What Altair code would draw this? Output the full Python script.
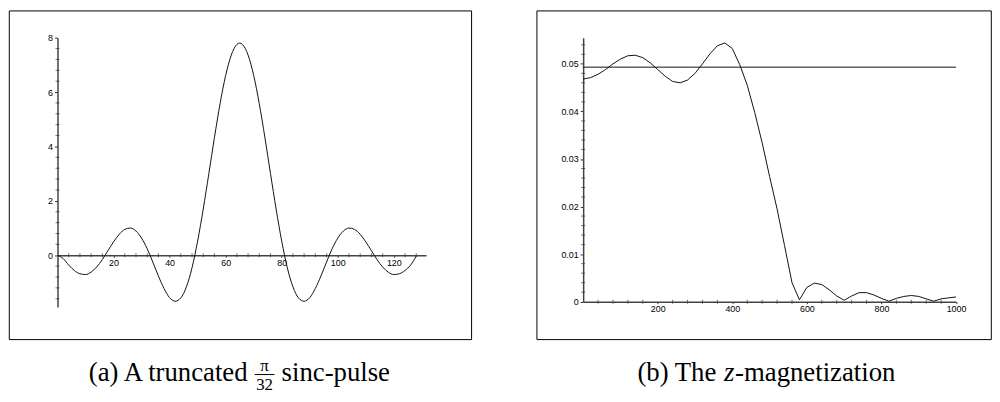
import altair as alt
import pandas as pd

# ---------------- data ----------------
# (a) truncated sinc pulse
sinc_x = [0, 2, 4, 6, 8, 10, 12, 14, 16, 18, 20, 22, 24, 26, 28, 30, 32, 34, 36, 38,
          40, 42, 44, 46, 48, 50, 52, 54, 56, 58, 60, 62, 64, 65, 66, 68, 70, 72, 74, 76,
          78, 80, 82, 84, 86, 88, 90, 92, 94, 96, 98, 100, 102, 104, 106, 108, 110, 112,
          114, 116, 118, 120, 122, 124, 126, 128]
sinc_y = [0.00, -0.12, -0.36, -0.56, -0.68, -0.71, -0.62, -0.43, -0.16, 0.17, 0.49, 0.77,
          0.95, 1.00, 0.89, 0.63, 0.24, -0.25, -0.76, -1.22, -1.56, -1.69, -1.57, -1.16,
          -0.46, 0.52, 1.70, 3.00, 4.33, 5.57, 6.61, 7.36, 7.75, 7.80, 7.75, 7.36, 6.61,
          5.57, 4.33, 3.00, 1.70, 0.52, -0.46, -1.16, -1.57, -1.69, -1.56, -1.22, -0.76,
          -0.25, 0.24, 0.63, 0.89, 1.00, 0.95, 0.77, 0.49, 0.17, -0.16, -0.43, -0.62,
          -0.71, -0.68, -0.56, -0.36, -0.03]

# (b) z-magnetization
mag_x = [0, 20, 40, 60, 80, 100, 120, 140, 160, 180, 200, 220, 240, 260, 280, 300, 320,
         340, 360, 380, 400, 420, 440, 460, 480, 500, 520, 540, 560, 580, 600, 620, 640,
         660, 680, 700, 720, 740, 760, 780, 800, 820, 840, 860, 880, 900, 920, 940, 960,
         980, 1000]
mag_y = [0.0468, 0.0471, 0.0478, 0.0488, 0.0500, 0.0510, 0.0517, 0.0518, 0.0513, 0.0502,
         0.0488, 0.0474, 0.0463, 0.0460, 0.0466, 0.0480, 0.0500, 0.0521, 0.0538, 0.0544,
         0.0532, 0.0498, 0.0455, 0.0398, 0.0334, 0.0263, 0.0195, 0.0118, 0.0040, 0.0004,
         0.0030, 0.0039, 0.0036, 0.0025, 0.0012, 0.0003, 0.0012, 0.0019, 0.0019, 0.0014,
         0.0007, 0.0001, 0.0007, 0.0011, 0.0013, 0.0011, 0.0006, 0.0001, 0.0006, 0.0008,
         0.0010]
mag_level = [0.0493]

# major ticks (labelled) and minor ticks
a_x_labels = [20, 40, 60, 80, 100, 120]
a_y_labels = [0, 2, 4, 6, 8]
a_x_minor = [4, 8, 12, 16, 24, 28, 32, 36, 44, 48, 52, 56, 64, 68, 72, 76, 84, 88, 92, 96,
             104, 108, 112, 116, 124, 128]
a_y_minor = [-1.6, -1.2, -0.8, -0.4, 0.4, 0.8, 1.2, 1.6, 2.4, 2.8, 3.2, 3.6, 4.4, 4.8, 5.2,
             5.6, 6.4, 6.8, 7.2, 7.6]
b_x_labels = [200, 400, 600, 800, 1000]
b_y_labels = [0, 0.01, 0.02, 0.03, 0.04, 0.05]
b_x_minor = [40, 80, 120, 160, 240, 280, 320, 360, 440, 480, 520, 560, 640, 680, 720, 760,
             840, 880, 920, 960]
b_y_minor = [0.002, 0.004, 0.006, 0.008, 0.012, 0.014, 0.016, 0.018, 0.022, 0.024, 0.026,
             0.028, 0.032, 0.034, 0.036, 0.038, 0.042, 0.044, 0.046, 0.048, 0.052, 0.054]

caption_a_left = "(a) A truncated"
caption_a_num = "π"
caption_a_den = "32"
caption_a_right = "sinc-pulse"
caption_b_left = "(b) The"
caption_b_var = "z"
caption_b_right = "-magnetization"

# ---------------- layout constants ----------------
A_XDOM, A_YDOM = [0, 131.5], [-1.9, 8]
A_W, A_H = 372.3, 272
B_XDOM, B_YDOM = [0, 1000], [0, 0.0555]
B_W, B_H = 376.7, 266.7

LABEL_FONT = "Liberation Sans"
SERIF = "Liberation Serif"
CAP = 27
FRAC = 17
BASE = 347
AXIS_STYLE = dict(domainColor="#444", domainWidth=1.5, tickColor="#333", tickWidth=1,
                  labelFont=LABEL_FONT, labelFontSize=9, labelColor="black",
                  labelOverlap=False, labelFlush=False, grid=False)
X_AXIS = dict(tickSize=2, labelPadding=1, **AXIS_STYLE)
Y_AXIS = dict(tickSize=3, labelPadding=2, **AXIS_STYLE)

one = pd.DataFrame({"k": [0]})


def frame(x1, x2, y1, y2):
    return alt.Chart(one).mark_rect(fillOpacity=0, stroke="black", strokeWidth=1).encode(
        x=alt.value(x1), x2=alt.value(x2), y=alt.value(y1), y2=alt.value(y2))


def txt(s, x, y, align="left", size=CAP, style="normal"):
    return alt.Chart(one).mark_text(text=s, font=SERIF, fontSize=size, align=align,
                                    baseline="alphabetic", fontStyle=style,
                                    color="black").encode(x=alt.value(x), y=alt.value(y))


def minor_x(vals, sx, sy, ax, ay):
    return alt.Chart(pd.DataFrame({"x": vals})).mark_tick(
        orient="vertical", size=4, thickness=1, color="#333").encode(
        x=alt.X("x:Q", scale=sx, axis=ax, title=None),
        y=alt.YDatum(0, scale=sy, axis=ay, title=None))


def minor_y(vals, sx, sy, ax, ay):
    return alt.Chart(pd.DataFrame({"y": vals})).mark_tick(
        orient="horizontal", size=4, thickness=1, color="#333").encode(
        y=alt.Y("y:Q", scale=sy, axis=ay, title=None),
        x=alt.XDatum(0, scale=sx, axis=ax, title=None))


# ---------------- panel (a) ----------------
df_a = pd.DataFrame({"x": sinc_x, "y": sinc_y})
a_off = -(A_H * (0 - A_YDOM[0]) / (A_YDOM[1] - A_YDOM[0]))
sc_ax = alt.Scale(domain=A_XDOM, nice=False, zero=False)
sc_ay = alt.Scale(domain=A_YDOM, nice=False, zero=False)
ax_ax = alt.Axis(values=a_x_labels, offset=a_off, format="d", **X_AXIS)
ax_ay = alt.Axis(values=a_y_labels, format="d", **Y_AXIS)
line_a = alt.Chart(df_a).mark_line(color="#111", strokeWidth=1, interpolate="monotone").encode(
    x=alt.X("x:Q", scale=sc_ax, axis=ax_ax, title=None),
    y=alt.Y("y:Q", scale=sc_ay, axis=ax_ay, title=None),
)
fx = 209.2
panel_a = alt.layer(
    frame(-48.7, 418.3, -27, 305),
    line_a,
    minor_x(a_x_minor, sc_ax, sc_ay, ax_ax, ax_ay),
    minor_y(a_y_minor, sc_ax, sc_ay, ax_ax, ax_ay),
    txt(caption_a_left, 192, BASE, align="right"),
    txt(caption_a_num, fx, BASE - 10, align="center", size=FRAC),
    alt.Chart(one).mark_rule(color="black", strokeWidth=1).encode(
        x=alt.value(fx - 10), x2=alt.value(fx + 10), y=alt.value(BASE - 6.7)),
    txt(caption_a_den, fx, BASE + 9, align="center", size=FRAC),
    txt(caption_a_right, 226.4, BASE),
).properties(width=A_W, height=A_H)

# ---------------- panel (b) ----------------
df_b = pd.DataFrame({"x": mag_x, "y": mag_y})
df_lvl = pd.DataFrame({"y": mag_level})
sc_bx = alt.Scale(domain=B_XDOM, nice=False, zero=False)
sc_by = alt.Scale(domain=B_YDOM, nice=False, zero=False)
ax_bx = alt.Axis(values=b_x_labels, format="d", **X_AXIS)
ax_by = alt.Axis(values=b_y_labels,
                 labelExpr="datum.value == 0 ? '0' : format(datum.value, '.2f')", **Y_AXIS)
line_b = alt.Chart(df_b).mark_line(color="#111", strokeWidth=1).encode(
    x=alt.X("x:Q", scale=sc_bx, axis=ax_bx, title=None),
    y=alt.Y("y:Q", scale=sc_by, axis=ax_by, title=None),
)
level_b = alt.Chart(df_lvl).mark_rule(color="#111", strokeWidth=1).encode(
    y=alt.Y("y:Q", scale=sc_by, axis=ax_by, title=None))
panel_b = alt.layer(
    frame(-46.7, 412.3, -27, 305),
    line_b,
    level_b,
    minor_x(b_x_minor, sc_bx, sc_by, ax_bx, ax_by),
    minor_y(b_y_minor, sc_bx, sc_by, ax_bx, ax_by),
    txt(caption_b_left, 134.5, BASE, align="right"),
    txt(caption_b_var, 147.5, BASE, align="center", style="italic"),
    txt(caption_b_right, 153.5, BASE),
).properties(width=B_W, height=B_H)

chart = alt.hconcat(panel_a, panel_b, spacing=64).properties(
    padding=0
).configure_view(stroke=None)

chart.save("out.html", embed_options={"renderer": "svg", "actions": False})
